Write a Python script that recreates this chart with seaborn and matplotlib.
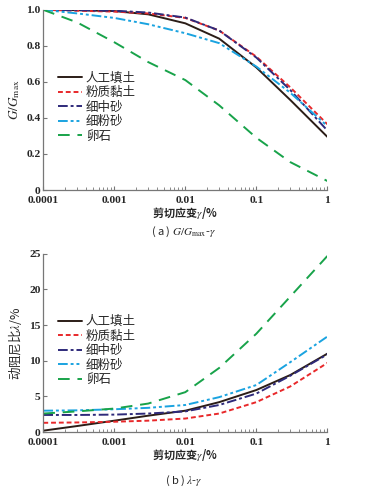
import numpy as np
import pandas as pd
import matplotlib
matplotlib.use("Agg")
import matplotlib.pyplot as plt
import matplotlib.ticker as mticker
import seaborn as sns

# data
strain = [1e-4, 3e-4, 1e-3, 3e-3, 1e-2, 3e-2, 1e-1, 3e-1, 1.0]
soils = ["人工填土", "粉质黏土", "细中砂", "细粉砂", "卵石"]

g_fill = [1.0, 0.998, 0.993, 0.975, 0.925, 0.84, 0.68, 0.50, 0.295]
g_clay = [1.0, 0.995, 0.99, 0.98, 0.955, 0.885, 0.74, 0.57, 0.365]
g_msand = [1.0, 0.998, 0.995, 0.985, 0.957, 0.885, 0.735, 0.555, 0.33]
g_fsand = [1.0, 0.98, 0.955, 0.92, 0.87, 0.815, 0.685, 0.54, 0.355]
g_pebble = [1.0, 0.93, 0.82, 0.71, 0.61, 0.47, 0.29, 0.155, 0.05]

d_fill = [0.2, 0.85, 1.6, 2.3, 3.0, 4.2, 5.9, 8.0, 11.0]
d_clay = [1.3, 1.35, 1.45, 1.6, 1.9, 2.6, 4.2, 6.4, 9.7]
d_msand = [2.4, 2.4, 2.45, 2.6, 2.9, 3.8, 5.4, 7.9, 10.9]
d_fsand = [3.0, 3.05, 3.2, 3.4, 3.8, 4.9, 6.6, 9.8, 13.4]
d_pebble = [2.6, 2.9, 3.3, 4.0, 5.6, 9.0, 13.8, 19.0, 24.7]

xticks = [1e-4, 1e-3, 1e-2, 1e-1, 1]
xtick_labels = ["0.0001", "0.001", "0.01", "0.1", "1"]
g_ticks = [0, 0.2, 0.4, 0.6, 0.8, 1.0]
g_tick_labels = ["0", "0.2", "0.4", "0.6", "0.8", "1.0"]
d_ticks = [0, 5, 10, 15, 20, 25]

colors = ["#2b1d17", "#e8282a", "#2e2a7a", "#1aa3e0", "#18a34a"]
styles = ["-", (0, (2.5, 1.5)), (0, (5, 1.5, 1.5, 1.5)), (0, (5, 1.5, 1.5, 1.5, 1.5, 1.5)), (0, (6, 4))]

sns.set_style("white")
plt.rcParams["font.family"] = ["Noto Sans CJK SC", "DejaVu Sans"]
plt.rcParams["mathtext.fontset"] = "stix"

fig = plt.figure(figsize=(3.67, 4.91), dpi=100)
ax1 = fig.add_axes([0.118, 0.613, 0.774, 0.367])
ax2 = fig.add_axes([0.118, 0.120, 0.774, 0.363])

tickfont = {"family": "Liberation Serif", "weight": "bold", "size": 8.2}


def draw(ax, series, yticks, ylabels, ylim):
    for name, vals, c, ls in zip(soils, series, colors, styles):
        sns.lineplot(x=strain, y=vals, ax=ax, color=c, linestyle=ls,
                     linewidth=1.4, label=name)
    ax.set_xscale("log")
    ax.set_xlim(1e-4, 1)
    ax.set_ylim(*ylim)
    ax.set_xticks(xticks)
    ax.set_xticklabels(xtick_labels, fontdict=tickfont)
    ax.xaxis.set_minor_locator(mticker.LogLocator(base=10, subs=np.arange(2, 10)))
    ax.xaxis.set_minor_formatter(mticker.NullFormatter())
    ax.set_yticks(yticks)
    ax.set_yticklabels(ylabels, fontdict=tickfont)
    ax.tick_params(axis="both", which="major", direction="in", length=3,
                   width=0.8, color="#777777", bottom=True, left=True)
    ax.tick_params(axis="x", which="major", pad=4.5)
    ax.tick_params(axis="y", which="major", pad=2)
    ax.tick_params(axis="x", which="minor", direction="in", length=2,
                   width=0.6, color="#777777", bottom=True)
    for s in ["top", "right"]:
        ax.spines[s].set_visible(False)
    for s in ["left", "bottom"]:
        ax.spines[s].set_color("#777777")
        ax.spines[s].set_linewidth(0.9)
    ax.set_xlabel("剪切应变$\\mathit{\\gamma}$/%", fontsize=8, fontweight="bold", labelpad=0)
    ax.legend(loc="upper left", bbox_to_anchor=(0.035, 0.685), frameon=False,
              fontsize=9, handlelength=1.9, handletextpad=0.3,
              labelspacing=0.12, borderaxespad=0)


draw(ax1, [g_fill, g_clay, g_msand, g_fsand, g_pebble], g_ticks, g_tick_labels, (0, 1.0))
draw(ax2, [d_fill, d_clay, d_msand, d_fsand, d_pebble], d_ticks,
     [str(t) for t in d_ticks], (0, 25))

ax1.set_ylabel("$G/G_{\\rm max}$", fontsize=9.5, labelpad=3)
ax2.set_ylabel("动阻尼比$\\mathit{\\lambda}$/%", fontsize=9, labelpad=4)

fig.text(0.5, 0.527, "( a ) $G/G_{\\rm max}$-$\\gamma$", ha="center", va="center", fontsize=8)
fig.text(0.5, 0.021, "( b ) $\\lambda$-$\\gamma$", ha="center", va="center", fontsize=8)

fig.savefig("out.png", dpi=100)
